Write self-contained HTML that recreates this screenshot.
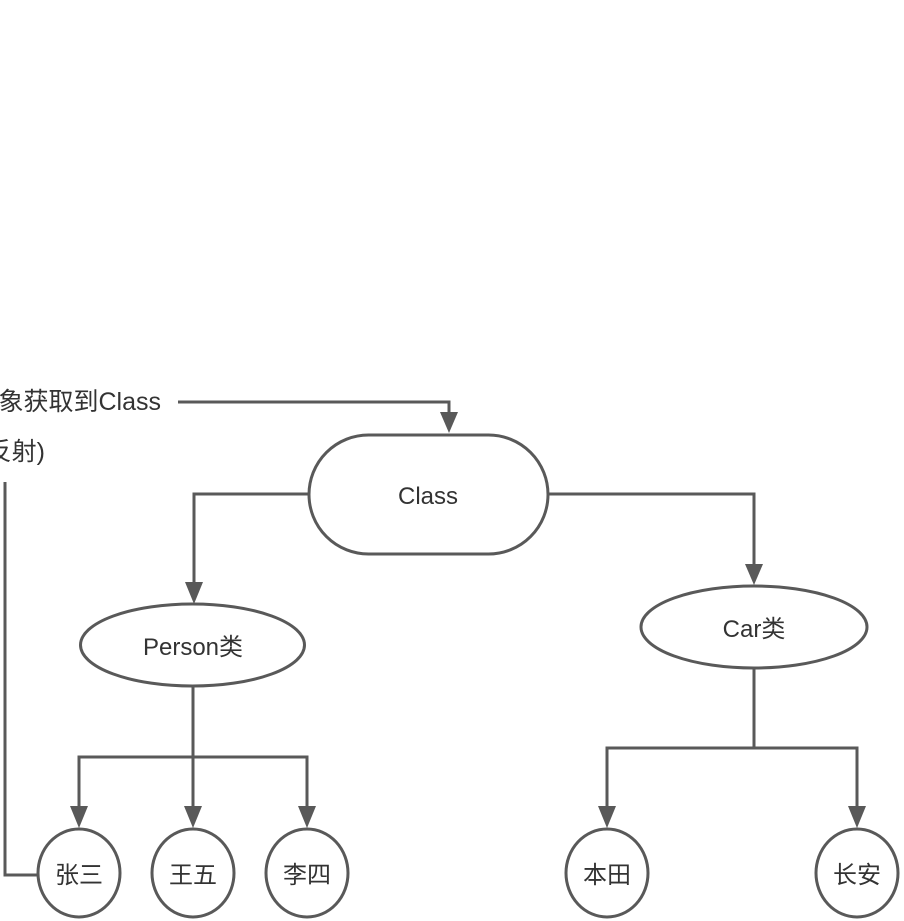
<!DOCTYPE html>
<html><head><meta charset="utf-8"><style>
html,body{margin:0;padding:0;background:#fff;}
svg{display:block;}
text{font-family:"Liberation Sans","Noto Sans CJK SC",sans-serif;fill:#333;}
</style></head><body>
<svg width="904" height="921" viewBox="0 0 904 921" xmlns="http://www.w3.org/2000/svg">
<defs>
<marker id="a" markerWidth="8" markerHeight="8" refX="4" refY="7" orient="auto" markerUnits="userSpaceOnUse" viewBox="0 0 8 8"></marker>
</defs>
<g fill="none" stroke="#595959" stroke-width="3">
<!-- top label connector -->
<polyline points="178,402 449,402 449,416"/>
<!-- left vertical to 张三 -->
<polyline points="5,482 5,875 38,875"/>
<!-- Class to Person -->
<polyline points="309,494 194,494 194,584"/>
<!-- Class to Car -->
<polyline points="548,494 754,494 754,566"/>
<!-- Person children -->
<polyline points="193,686 193,810"/>
<polyline points="79,810 79,757 307,757 307,810"/>
<!-- Car children -->
<polyline points="754,668 754,748"/>
<polyline points="607,808 607,748 857,748 857,808"/>
<!-- shapes -->
<rect x="309" y="435" width="239" height="119" rx="59.5" ry="59.5" fill="#fff"/>
<ellipse cx="192.5" cy="645" rx="112" ry="41" fill="#fff"/>
<ellipse cx="754" cy="627" rx="113" ry="41" fill="#fff"/>
<ellipse cx="79" cy="873" rx="41" ry="44" fill="#fff"/>
<ellipse cx="193" cy="873" rx="41" ry="44" fill="#fff"/>
<ellipse cx="307" cy="873" rx="41" ry="44" fill="#fff"/>
<ellipse cx="607" cy="873" rx="41" ry="44" fill="#fff"/>
<ellipse cx="857" cy="873" rx="41" ry="44" fill="#fff"/>
</g>
<g fill="#595959">
<polygon points="440,412 458,412 449,433"/>
<polygon points="185,582 203,582 194,604"/>
<polygon points="745,564 763,564 754,585"/>
<polygon points="70,806 88,806 79,828"/>
<polygon points="184,806 202,806 193,828"/>
<polygon points="298,806 316,806 307,828"/>
<polygon points="598,806 616,806 607,828"/>
<polygon points="848,806 866,806 857,828"/>
</g>
<g font-size="24" text-anchor="middle">
<text x="428" y="504">Class</text>
<text x="193" y="655">Person类</text>
<text x="754" y="637">Car类</text>
<text x="79" y="883">张三</text>
<text x="193" y="883">王五</text>
<text x="307" y="883">李四</text>
<text x="607" y="883">本田</text>
<text x="857" y="883">长安</text>
</g>
<g font-size="25" text-anchor="end">
<text x="161" y="410">对象获取到Class</text>
<text x="45" y="460">反射)</text>
</g>
</svg>
</body></html>
